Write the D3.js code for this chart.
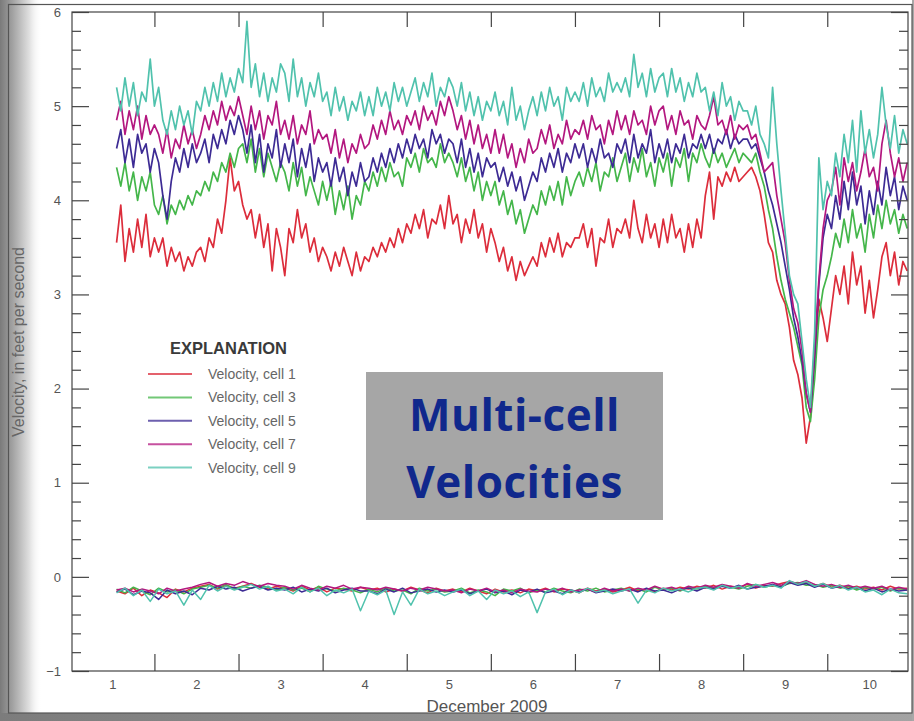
<!DOCTYPE html>
<html>
<head>
<meta charset="utf-8">
<script src="https://cdn.jsdelivr.net/npm/d3@7"></script>
<style>
  html, body { margin: 0; padding: 0; background: #fff; }
  svg { display: block; }
</style>
</head>
<body>
<svg id="chart" width="914" height="721"></svg>
<script>
// ---------------------------------------------------------------
// Velocity records, December 2009, sampled every 0.05 day (1.2 h)
// starting at day 1.55 of the month.
// ---------------------------------------------------------------
const sampleStart = 1.55;
const sampleStep = 0.05;

const cell1 = [
  3.55,3.95,3.35,3.7,3.45,3.8,3.5,3.85,3.4,3.6,
  3.45,3.6,3.3,3.5,3.35,3.45,3.25,3.4,3.3,3.45,
  3.5,3.35,3.6,3.5,3.8,3.65,4.0,4.45,4.1,4.2,
  3.95,3.8,3.9,3.6,3.85,3.5,3.75,3.25,3.7,3.5,
  3.2,3.7,3.55,3.9,3.6,3.75,3.45,3.6,3.35,3.5,
  3.4,3.25,3.45,3.3,3.5,3.35,3.2,3.45,3.25,3.4,
  3.35,3.5,3.4,3.55,3.45,3.6,3.5,3.7,3.55,3.75,
  3.65,3.85,3.7,3.9,3.6,3.8,3.75,3.95,3.7,4.05,
  3.75,3.85,3.55,3.8,3.65,3.9,3.6,3.75,3.45,3.7,
  3.55,3.35,3.5,3.25,3.4,3.15,3.35,3.2,3.3,3.4,
  3.3,3.55,3.4,3.6,3.45,3.65,3.4,3.55,3.5,3.6,
  3.6,3.75,3.5,3.7,3.3,3.6,3.55,3.8,3.5,3.7,
  3.65,3.8,3.6,4.0,3.7,3.55,3.85,3.6,3.75,3.5,
  3.8,3.55,3.85,3.6,3.7,3.45,3.75,3.5,3.8,3.6,
  4.05,4.3,3.8,4.25,4.15,4.3,4.2,4.35,4.2,4.25,
  4.3,4.35,4.25,4.1,3.85,3.55,3.45,3.15,3.0,2.9,
  2.65,2.3,2.15,1.9,1.42,1.7,2.3,2.95,2.75,2.5,
  2.85,3.2,3.0,3.3,2.9,3.45,3.1,3.3,2.8,3.15,
  2.75,3.05,3.4,3.55,3.2,3.45,3.1,3.35,3.25
];

const cell3 = [
  4.35,4.15,4.4,4.1,4.3,4.0,4.25,4.1,4.3,3.95,
  3.85,4.05,3.75,3.95,3.85,4.0,3.9,4.05,3.95,4.1,
  4.05,4.2,4.1,4.3,4.2,4.4,4.3,4.5,4.35,4.55,
  4.6,4.4,4.65,4.3,4.55,4.25,4.5,4.35,4.2,4.4,
  4.3,4.1,4.4,4.15,4.35,4.05,4.25,4.1,3.95,4.2,
  4.0,4.2,3.85,4.1,3.9,4.15,3.8,4.05,3.95,4.2,
  4.1,4.3,4.15,4.35,4.2,4.4,4.25,4.3,4.15,4.45,
  4.35,4.5,4.3,4.55,4.4,4.45,4.35,4.6,4.4,4.5,
  4.4,4.25,4.45,4.2,4.35,4.1,4.3,4.0,4.2,4.05,
  4.2,3.95,4.1,3.85,4.0,3.75,3.9,3.65,3.8,3.95,
  3.85,4.1,3.95,4.15,4.0,4.2,3.95,4.25,4.05,4.2,
  4.3,4.15,4.35,4.2,4.4,4.1,4.3,4.25,4.45,4.2,
  4.35,4.5,4.2,4.45,4.3,4.55,4.25,4.4,4.15,4.45,
  4.3,4.5,4.15,4.45,4.35,4.55,4.2,4.5,4.4,4.6,
  4.45,4.35,4.55,4.4,4.5,4.35,4.45,4.55,4.4,4.5,
  4.45,4.4,4.5,4.3,4.15,3.9,3.7,3.4,3.15,2.95,
  2.8,2.65,2.45,2.25,1.8,1.65,2.1,2.75,3.05,3.2,
  3.4,3.65,3.5,3.8,3.55,3.9,3.6,3.75,3.45,3.85,
  3.6,3.95,3.7,4.0,3.75,3.9,3.65,3.85,3.7
];

const cell5 = [
  4.55,4.75,4.4,4.65,4.35,4.7,4.5,4.6,4.3,4.55,
  4.4,4.05,3.8,4.2,4.45,4.3,4.55,4.35,4.6,4.4,
  4.5,4.65,4.4,4.7,4.55,4.75,4.6,4.85,4.7,4.9,
  4.75,4.5,4.8,4.4,4.7,4.3,4.6,4.45,4.75,4.35,
  4.6,4.4,4.65,4.25,4.55,4.35,4.6,4.2,4.45,4.3,
  4.4,4.15,4.45,4.2,4.35,4.05,4.3,4.15,4.4,4.2,
  4.25,4.45,4.3,4.5,4.35,4.55,4.4,4.6,4.45,4.65,
  4.5,4.7,4.55,4.65,4.45,4.75,4.6,4.7,4.5,4.65,
  4.6,4.4,4.65,4.35,4.55,4.3,4.5,4.25,4.45,4.35,
  4.4,4.2,4.35,4.15,4.3,4.1,4.25,4.0,4.15,4.3,
  4.2,4.45,4.3,4.5,4.35,4.55,4.3,4.5,4.4,4.6,
  4.45,4.6,4.35,4.55,4.4,4.65,4.45,4.5,4.35,4.6,
  4.5,4.65,4.4,4.7,4.45,4.6,4.5,4.75,4.4,4.6,
  4.45,4.65,4.4,4.6,4.5,4.7,4.45,4.6,4.55,4.7,
  4.55,4.7,4.5,4.65,4.6,4.75,4.55,4.7,4.6,4.65,
  4.65,4.55,4.6,4.45,4.3,4.1,3.95,3.75,3.55,3.3,
  3.05,2.75,2.55,2.3,1.95,1.75,2.35,3.1,3.6,3.85,
  3.7,4.05,3.8,4.2,3.9,4.3,3.95,4.15,3.75,4.1,
  3.85,4.2,3.95,4.35,4.05,4.25,3.9,4.15,4.0
];

const cell7 = [
  4.85,5.05,4.7,4.95,4.75,5.0,4.65,4.9,4.7,4.8,
  4.7,4.5,4.75,4.45,4.65,4.55,4.8,4.6,4.75,4.55,
  4.7,4.9,4.75,4.95,4.8,5.05,4.85,5.0,4.9,5.1,
  4.9,4.7,5.0,4.75,4.95,4.65,4.9,4.8,5.05,4.7,
  4.85,4.65,4.9,4.6,4.8,4.7,4.95,4.6,4.75,4.65,
  4.7,4.5,4.75,4.45,4.65,4.4,4.6,4.5,4.7,4.55,
  4.6,4.8,4.65,4.85,4.7,4.95,4.75,4.85,4.7,4.9,
  4.8,4.95,4.75,5.0,4.85,4.95,4.8,5.05,4.9,5.1,
  4.95,4.75,4.9,4.65,4.85,4.6,4.8,4.55,4.7,4.5,
  4.75,4.5,4.7,4.45,4.6,4.35,4.55,4.4,4.65,4.5,
  4.55,4.75,4.6,4.8,4.55,4.7,4.6,4.85,4.65,4.75,
  4.7,4.85,4.65,4.9,4.75,4.8,4.6,4.85,4.7,4.95,
  4.75,4.9,4.7,4.95,4.8,4.85,4.7,5.0,4.8,4.95,
  5.0,4.75,4.9,4.7,4.95,4.8,4.85,4.65,4.9,4.8,
  4.75,4.9,5.1,4.8,4.85,4.7,4.9,4.65,4.8,4.75,
  4.8,4.65,4.7,4.5,4.3,4.35,4.4,4.05,3.8,3.55,
  3.15,2.85,2.7,2.4,1.95,1.75,2.45,3.15,3.7,4.0,
  4.1,4.35,3.95,4.45,4.2,4.4,4.1,4.3,4.55,4.25,
  4.35,4.1,4.6,4.85,4.5,4.25,4.45,4.2,4.4
];

const cell9 = [
  5.2,4.95,5.3,5.0,5.25,4.9,5.15,5.05,5.5,5.0,
  5.2,4.85,4.7,4.95,4.75,5.0,4.8,4.95,4.7,5.05,
  4.95,5.2,5.0,5.25,5.05,5.35,5.1,5.3,5.15,5.4,
  5.25,5.9,5.2,5.45,5.1,5.35,5.05,5.3,5.15,5.45,
  5.35,5.05,5.5,5.1,5.3,5.0,5.25,5.1,5.35,5.05,
  5.15,4.9,5.2,4.95,5.1,4.85,5.05,4.95,5.15,4.9,
  5.1,4.9,5.2,5.0,5.15,4.95,5.25,5.05,5.2,5.0,
  5.15,5.3,5.05,5.25,5.1,5.35,5.0,5.2,5.1,5.3,
  5.2,5.0,5.25,4.95,5.15,4.9,5.1,4.85,5.05,4.95,
  5.15,4.9,5.05,4.8,5.2,4.85,5.0,4.75,4.95,5.1,
  4.9,5.15,4.95,5.2,5.0,5.1,4.85,5.2,5.05,5.15,
  5.05,5.25,5.0,5.3,5.1,5.2,5.05,5.35,5.15,5.25,
  5.15,5.3,5.1,5.55,5.2,5.35,5.1,5.4,5.15,5.3,
  5.35,5.1,5.4,5.15,5.3,5.05,5.25,5.1,5.35,5.15,
  5.2,4.95,5.15,4.9,5.25,5.0,5.1,4.85,5.05,4.95,
  4.95,4.8,5.0,4.7,4.6,4.45,5.2,4.6,4.1,3.65,
  3.2,3.0,2.9,2.5,2.1,1.8,2.6,4.45,3.9,4.2,
  4.05,4.5,4.25,4.7,4.4,4.85,4.3,4.95,4.5,4.75,
  4.45,4.7,5.2,4.8,4.55,4.9,4.5,4.75,4.6
];

// Near-zero (transverse) component of the same cells, every 0.1 day.
const crossStart = 1.55;
const crossStep = 0.1;

const cross1 = [
  -0.15,-0.18,-0.12,-0.2,-0.14,-0.17,-0.22,-0.13,-0.16,-0.12,
  -0.1,-0.08,-0.13,-0.09,-0.12,-0.1,-0.07,-0.11,-0.13,-0.1,
  -0.12,-0.15,-0.1,-0.14,-0.11,-0.16,-0.12,-0.13,-0.15,-0.11,
  -0.14,-0.12,-0.16,-0.13,-0.15,-0.11,-0.14,-0.17,-0.12,-0.15,
  -0.13,-0.16,-0.12,-0.15,-0.18,-0.13,-0.16,-0.14,-0.17,-0.13,
  -0.15,-0.12,-0.16,-0.13,-0.14,-0.17,-0.12,-0.15,-0.13,-0.16,
  -0.14,-0.11,-0.15,-0.13,-0.16,-0.12,-0.14,-0.11,-0.13,-0.1,
  -0.12,-0.09,-0.13,-0.1,-0.11,-0.08,-0.12,-0.09,-0.1,-0.07,
  -0.05,-0.08,-0.06,-0.1,-0.07,-0.11,-0.09,-0.12,-0.1,-0.13,
  -0.11,-0.14,-0.1,-0.13,-0.12
];
const cross3 = [
  -0.13,-0.17,-0.11,-0.15,-0.19,-0.12,-0.16,-0.14,-0.18,-0.13,
  -0.11,-0.09,-0.12,-0.08,-0.13,-0.1,-0.12,-0.09,-0.11,-0.14,
  -0.11,-0.14,-0.12,-0.16,-0.1,-0.13,-0.15,-0.12,-0.14,-0.17,
  -0.13,-0.16,-0.12,-0.15,-0.14,-0.18,-0.12,-0.15,-0.13,-0.16,
  -0.15,-0.12,-0.17,-0.14,-0.16,-0.2,-0.13,-0.15,-0.12,-0.17,
  -0.14,-0.16,-0.12,-0.15,-0.17,-0.13,-0.15,-0.12,-0.16,-0.14,
  -0.12,-0.15,-0.13,-0.16,-0.11,-0.14,-0.12,-0.15,-0.11,-0.13,
  -0.1,-0.12,-0.09,-0.11,-0.13,-0.1,-0.08,-0.11,-0.09,-0.1,
  -0.07,-0.06,-0.09,-0.08,-0.11,-0.09,-0.12,-0.1,-0.14,-0.11,
  -0.13,-0.11,-0.15,-0.12,-0.14
];
const cross5 = [
  -0.16,-0.13,-0.19,-0.15,-0.17,-0.24,-0.14,-0.18,-0.15,-0.19,
  -0.12,-0.14,-0.1,-0.13,-0.11,-0.15,-0.12,-0.1,-0.14,-0.12,
  -0.14,-0.11,-0.16,-0.13,-0.15,-0.12,-0.17,-0.14,-0.12,-0.15,
  -0.15,-0.18,-0.13,-0.16,-0.12,-0.17,-0.15,-0.13,-0.16,-0.14,
  -0.16,-0.14,-0.18,-0.15,-0.13,-0.17,-0.15,-0.19,-0.14,-0.16,
  -0.13,-0.17,-0.15,-0.18,-0.14,-0.16,-0.13,-0.17,-0.15,-0.13,
  -0.15,-0.13,-0.16,-0.12,-0.15,-0.14,-0.17,-0.13,-0.12,-0.15,
  -0.11,-0.13,-0.1,-0.12,-0.09,-0.13,-0.11,-0.1,-0.08,-0.11,
  -0.06,-0.09,-0.07,-0.11,-0.08,-0.12,-0.1,-0.13,-0.11,-0.15,
  -0.12,-0.16,-0.13,-0.15,-0.14
];
const cross7 = [
  -0.14,-0.12,-0.16,-0.13,-0.15,-0.18,-0.12,-0.15,-0.13,-0.11,
  -0.08,-0.06,-0.1,-0.07,-0.09,-0.05,-0.08,-0.1,-0.07,-0.09,
  -0.1,-0.13,-0.09,-0.12,-0.14,-0.1,-0.12,-0.09,-0.13,-0.11,
  -0.12,-0.14,-0.11,-0.13,-0.15,-0.12,-0.14,-0.11,-0.13,-0.15,
  -0.14,-0.17,-0.13,-0.15,-0.12,-0.16,-0.14,-0.17,-0.13,-0.15,
  -0.16,-0.13,-0.15,-0.12,-0.16,-0.14,-0.13,-0.16,-0.12,-0.15,
  -0.13,-0.15,-0.12,-0.14,-0.1,-0.13,-0.11,-0.14,-0.1,-0.12,
  -0.09,-0.11,-0.08,-0.1,-0.12,-0.07,-0.1,-0.08,-0.06,-0.09,
  -0.05,-0.07,-0.04,-0.08,-0.1,-0.08,-0.11,-0.09,-0.12,-0.1,
  -0.12,-0.1,-0.14,-0.11,-0.13
];
const cross9 = [
  -0.17,-0.12,-0.2,-0.14,-0.26,-0.13,-0.18,-0.15,-0.3,-0.14,
  -0.24,-0.09,-0.15,-0.1,-0.14,-0.11,-0.08,-0.13,-0.1,-0.15,
  -0.13,-0.18,-0.11,-0.16,-0.12,-0.2,-0.14,-0.17,-0.13,-0.36,
  -0.15,-0.19,-0.14,-0.4,-0.16,-0.3,-0.13,-0.18,-0.15,-0.2,
  -0.16,-0.13,-0.2,-0.15,-0.24,-0.14,-0.18,-0.15,-0.21,-0.16,
  -0.38,-0.16,-0.13,-0.19,-0.14,-0.17,-0.12,-0.16,-0.14,-0.18,
  -0.15,-0.13,-0.28,-0.14,-0.17,-0.12,-0.15,-0.13,-0.16,-0.12,
  -0.11,-0.14,-0.09,-0.12,-0.1,-0.13,-0.08,-0.11,-0.09,-0.12,
  -0.04,-0.08,-0.05,-0.1,-0.07,-0.12,-0.09,-0.14,-0.11,-0.16,
  -0.14,-0.19,-0.13,-0.17,-0.18
];

const seriesNames = ["Velocity, cell 1", "Velocity, cell 3", "Velocity, cell 5", "Velocity, cell 7", "Velocity, cell 9"];
const seriesColors = ["#dc2d3b", "#44b64a", "#3d2b94", "#b3177f", "#50c2ad"];
const mainSeries = [cell1, cell3, cell5, cell7, cell9];
const crossSeries = [cross1, cross3, cross5, cross7, cross9];

const dayLabels = ["1","2","3","4","5","6","7","8","9","10"];
const dayBoundaries = [2,3,4,5,6,7,8,9,10];
const yLabels = [-1,0,1,2,3,4,5,6];

// ---------------------------------------------------------------
const W = 914, H = 721;
const svg = d3.select("#chart");
const defs = svg.append("defs");

const x = d3.scaleLinear().domain([1.02, 10.96]).range([72, 908]);
const y = d3.scaleLinear().domain([-1, 6]).range([671, 12]);

// soft page shadow on the left and bottom edges
const lg = defs.append("linearGradient").attr("id", "leftShade")
  .attr("x1", 0).attr("x2", 1).attr("y1", 0).attr("y2", 0);
lg.append("stop").attr("offset", 0).attr("stop-color", "#7a7a7a");
lg.append("stop").attr("offset", 0.3).attr("stop-color", "#a2a2a2");
lg.append("stop").attr("offset", 0.7).attr("stop-color", "#e0e0e0");
lg.append("stop").attr("offset", 1).attr("stop-color", "#ffffff").attr("stop-opacity", 0);
svg.append("rect").attr("x", 0).attr("y", 0).attr("width", 42).attr("height", H)
  .attr("fill", "url(#leftShade)");

const bg = defs.append("linearGradient").attr("id", "bottomShade")
  .attr("x1", 0).attr("x2", 1).attr("y1", 0).attr("y2", 0);
bg.append("stop").attr("offset", 0).attr("stop-color", "#7c7c7c");
bg.append("stop").attr("offset", 1).attr("stop-color", "#a4a4a4");
svg.append("rect").attr("x", 0).attr("y", 713).attr("width", W).attr("height", 8)
  .attr("fill", "url(#bottomShade)");
svg.append("rect").attr("x", 912).attr("y", 0).attr("width", 2).attr("height", H)
  .attr("fill", "#a8a8a8");

// outer figure frame
svg.append("rect").attr("x", 8.5).attr("y", 4.5).attr("width", 903.5).attr("height", 708.5)
  .attr("fill", "none").attr("stroke", "#555").attr("stroke-width", 1.2);

const fontLabel = "'Liberation Sans',Arial,sans-serif";

// ---------------------------------------------------------------
// data lines
defs.append("clipPath").attr("id", "plotClip").append("rect")
  .attr("x", 72).attr("y", 12).attr("width", 836).attr("height", 659);

const plot = svg.append("g").attr("clip-path", "url(#plotClip)");

const mainLine = d3.line()
  .x((d, i) => x(sampleStart + i * sampleStep))
  .y(d => y(d));
const crossLine = d3.line()
  .x((d, i) => x(crossStart + i * crossStep))
  .y(d => y(d));

crossSeries.forEach((s, k) => {
  plot.append("path").datum(s).attr("d", crossLine)
    .attr("fill", "none").attr("stroke", seriesColors[k])
    .attr("stroke-width", 1.5).attr("stroke-linejoin", "round");
});
mainSeries.forEach((s, k) => {
  plot.append("path").datum(s).attr("d", mainLine)
    .attr("fill", "none").attr("stroke", seriesColors[k])
    .attr("stroke-width", 1.7).attr("stroke-linejoin", "round");
});

// ---------------------------------------------------------------
// axes
const majorY = d3.range(-1, 7, 1);
const minorY = d3.range(-1, 6.001, 0.2).filter(v => Math.abs(v - Math.round(v)) > 0.01);

function styleAxis(g) {
  g.select(".domain").remove();
  g.selectAll(".tick line").attr("stroke", "#444").attr("stroke-width", 1.2);
  g.selectAll(".tick text").attr("fill", "#555").attr("font-family", fontLabel)
    .attr("font-size", 13);
}

svg.append("g").attr("transform", "translate(72,0)")
  .call(d3.axisLeft(y).tickValues(minorY).tickSize(-9).tickFormat(""))
  .call(styleAxis);
svg.append("g").attr("transform", "translate(72,0)")
  .call(d3.axisLeft(y).tickValues(yLabels).tickSize(-17).tickPadding(11).tickFormat(d3.format("d")))
  .call(styleAxis);
svg.append("g").attr("transform", "translate(908,0)")
  .call(d3.axisRight(y).tickValues(minorY).tickSize(-9).tickFormat(""))
  .call(styleAxis);
svg.append("g").attr("transform", "translate(908,0)")
  .call(d3.axisRight(y).tickValues(majorY).tickSize(-17).tickFormat(""))
  .call(styleAxis);

svg.append("g").attr("transform", "translate(0,671)")
  .call(d3.axisBottom(x).tickValues(dayBoundaries).tickSize(-17).tickFormat(""))
  .call(styleAxis);
svg.append("g").attr("transform", "translate(0,12)")
  .call(d3.axisTop(x).tickValues(dayBoundaries).tickSize(-15).tickFormat(""))
  .call(styleAxis);
svg.append("g").attr("transform", "translate(0,671)")
  .call(d3.axisBottom(x).tickValues(dayLabels.map(d => +d + 0.5)).tickSize(0).tickPadding(9)
    .tickFormat((d, i) => dayLabels[i]))
  .call(styleAxis);

// plot frame
svg.append("rect").attr("x", 72).attr("y", 12).attr("width", 836).attr("height", 659)
  .attr("fill", "none").attr("stroke", "#444").attr("stroke-width", 1.2);

// axis titles
svg.append("text").attr("x", 487).attr("y", 712).attr("text-anchor", "middle")
  .attr("font-family", fontLabel).attr("font-size", 17).attr("fill", "#555")
  .text("December 2009");
svg.append("text").attr("transform", "translate(24,342) rotate(-90)")
  .attr("text-anchor", "middle").attr("font-family", fontLabel)
  .attr("font-size", 16).attr("fill", "#666")
  .text("Velocity, in feet per second");

// ---------------------------------------------------------------
// legend
const legend = svg.append("g").attr("transform", "translate(148,348)");
legend.append("text").attr("x", 22).attr("y", 6).attr("font-family", fontLabel)
  .attr("font-weight", "bold").attr("font-size", 16.5).attr("fill", "#3a3a3a")
  .text("EXPLANATION");
seriesNames.forEach((name, k) => {
  const gy = 26 + k * 23.4;
  legend.append("line").attr("x1", 0).attr("x2", 44).attr("y1", gy).attr("y2", gy)
    .attr("stroke", seriesColors[k]).attr("stroke-width", 2).attr("opacity", 0.75);
  legend.append("text").attr("x", 60).attr("y", gy + 5).attr("font-family", fontLabel)
    .attr("font-size", 14).attr("fill", "#666").text(name);
});

// ---------------------------------------------------------------
// title card
const card = svg.append("g");
card.append("rect").attr("x", 366).attr("y", 372).attr("width", 297).attr("height", 148)
  .attr("fill", "#a6a6a6");
card.append("text").attr("x", 514.5).attr("y", 431).attr("text-anchor", "middle")
  .attr("font-family", "'Open Sans','Noto Sans',sans-serif").attr("font-weight", "bold")
  .attr("font-size", 44).attr("letter-spacing", 0.5).attr("fill", "#10288c").text("Multi-cell");
card.append("text").attr("x", 514.5).attr("y", 498).attr("text-anchor", "middle")
  .attr("font-family", "'Open Sans','Noto Sans',sans-serif").attr("font-weight", "bold")
  .attr("font-size", 44).attr("letter-spacing", 0.5).attr("fill", "#10288c").text("Velocities");
</script>
</body>
</html>
